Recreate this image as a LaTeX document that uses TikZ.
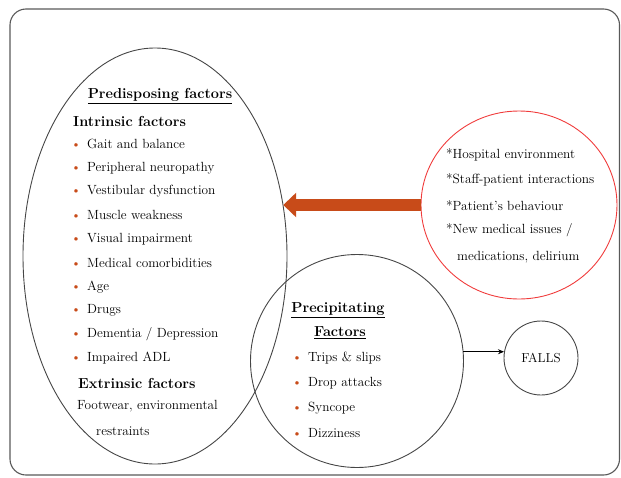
\documentclass[tikz,border=0pt]{standalone}
\usepackage{tikz}
\usetikzlibrary{arrows.meta,positioning,shapes.geometric}
\definecolor{rust}{RGB}{200,75,25}
\definecolor{edge}{RGB}{70,70,70}
\definecolor{ringred}{RGB}{240,60,60}
\newcommand{\bul}{\makebox[16pt][l]{\textcolor{rust}{\fontsize{13}{13}\selectfont\textbullet}}}

\begin{document}
\begin{tikzpicture}[x=1pt, y=-1pt, every node/.style={font=\fontsize{13.3}{15}\selectfont},
  blob/.style={draw=edge, line width=0.9pt, inner sep=0pt, outer sep=0pt},
  row/.style={anchor=west, inner sep=0pt},
  head/.style={font=\fontsize{14.5}{16}\selectfont\bfseries}]
  \useasboundingbox (0,0) rectangle (621,477);
  % frame
  \draw[black!65, line width=1.1pt, rounded corners=16pt] (10,9) rectangle (619.5,475);
  % bubbles
  \node[blob, ellipse, minimum width=264pt, minimum height=416pt] (predis) at (155,256) {};
  \node[blob, circle, minimum size=213pt] (precip) at (357,361) {};
  \node[blob, ellipse, draw=ringred, minimum width=196pt, minimum height=188pt] (hosp) at (519,205) {};
  \node[blob, circle, minimum size=74pt, font=\fontsize{13}{15}\selectfont] (falls) at (541,358) {FALLS};
  % predisposing factors
  \node[head] (phead) at (160,96) {\underline{Predisposing factors}};
  \node[head, row] (intr) at (73,121) {Intrinsic factors};
  \foreach \txt [count=\i from 0] in {Gait and balance, Peripheral neuropathy,
      Vestibular dysfunction, Muscle weakness, Visual impairment,
      Medical comorbidities, Age, Drugs, Dementia / Depression, Impaired ADL}
    \node[row] (pitem\i) at (71,{144+23.8*\i}) {\bul\txt};
  \node[head, row] (extr) at (78,383) {Extrinsic factors};
  \node[row] (foot) at (77,406) {Footwear, environmental};
  \node[row] (restr) at (96,431) {restraints};
  % precipitating factors
  \node[head] (qhead) at (338,310) {\underline{Precipitating}};
  \node[head] (qhead2) at (340,333) {\underline{Factors}};
  \foreach \txt [count=\i from 0] in {Trips \& slips, Drop attacks, Syncope, Dizziness}
    \node[row] (qitem\i) at (292,{358+25*\i}) {\bul\txt};
  % hospital factors
  \node[row] (h1) at (446,155) {*Hospital environment};
  \node[row] (h2) at (446,180) {*Staff-patient interactions};
  \node[row] (h3) at (446,206) {*Patient's behaviour};
  \node[row] (h4) at (446,230) {*New medical issues /};
  \node[row] (h5) at (457,257) {medications, delirium};
  % arrows
  \draw[-{Stealth[length=6pt,width=5pt]}, line width=0.8pt] (precip.5) -- (precip.5 -| falls.west);
  \draw[rust, line width=12pt, -{Triangle[length=13pt,width=24pt]}] (hosp.west) -- (hosp.west -| predis.21);
\end{tikzpicture}
\end{document}
